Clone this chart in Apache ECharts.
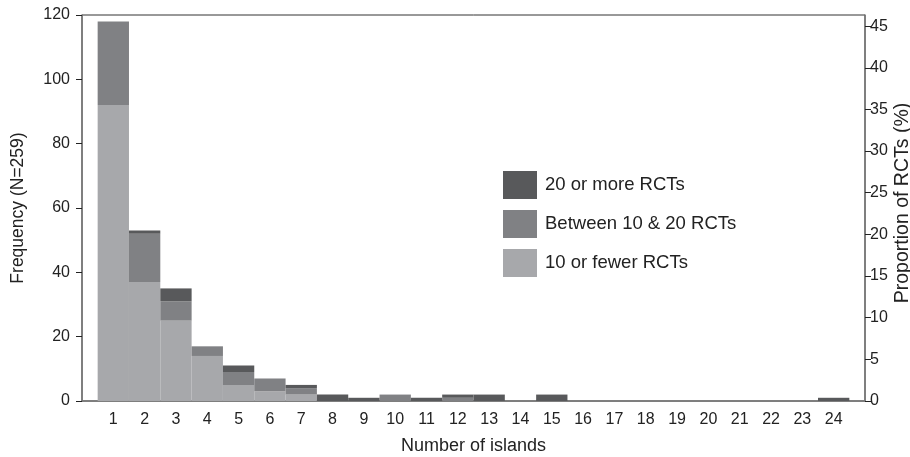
<!DOCTYPE html>
<html>
<head>
<meta charset="utf-8">
<script src="https://cdn.jsdelivr.net/npm/echarts@6/dist/echarts.min.js"></script>
<style>
  html, body { margin: 0; padding: 0; background: #fff; }
  #chart { width: 910px; height: 457px; }
</style>
</head>
<body>
<div id="chart"></div>
<script>
// number of islands (x axis)
const islands = ['1', '2', '3', '4', '5', '6', '7', '8', '9', '10', '11', '12', '13', '14', '15', '16', '17', '18', '19', '20', '21', '22', '23', '24'];
// frequencies per group
const fewRCTs = [92, 37, 25, 14, 5, 3, 2, 0, 0, 0, 0, 0, 0, 0, 0, 0, 0, 0, 0, 0, 0, 0, 0, 0];
const midRCTs = [26, 15, 6, 3, 4, 4, 2, 0, 0, 2, 0, 1, 0, 0, 0, 0, 0, 0, 0, 0, 0, 0, 0, 0];
const manyRCTs = [0, 1, 4, 0, 2, 0, 1, 2, 1, 0, 1, 1, 2, 0, 2, 0, 0, 0, 0, 0, 0, 0, 0, 1];
const N = 259;
const freqMax = 120;

const names = ['20 or more RCTs', 'Between 10 & 20 RCTs', '10 or fewer RCTs'];
const colors = { few: '#a7a8ab', mid: '#808184', many: '#58595b' };

const chart = echarts.init(document.getElementById('chart'));

const font = 'Liberation Sans';
const axisText = { color: '#222', fontFamily: font, fontSize: 16 };

// frame: 82..865 wide, one half-slot of padding each side for the bars
const frameLeft = 82, frameRight = 45;
const slot = (910 - frameLeft - frameRight) / (islands.length + 1);

const option = {
  animation: false,
  textStyle: { fontFamily: font },
  grid: [
    // grid 0 holds the bars
    { left: frameLeft + slot / 2, right: frameRight + slot / 2, top: 15, bottom: 56, outerBoundsMode: 'none' },
    // grid 1 draws the frame and the visible y axes
    { left: frameLeft, right: frameRight, top: 15, bottom: 56, outerBoundsMode: 'none',
      show: true, borderColor: '#333', borderWidth: 1 }
  ],
  legend: {
    data: names,
    orient: 'vertical',
    left: 503, top: 171,
    padding: 0,
    itemWidth: 34, itemHeight: 28, itemGap: 11,
    icon: 'rect',
    textStyle: { fontSize: 18.5, color: '#222', fontFamily: font, padding: [0, 0, 0, 3] }
  },
  xAxis: [
    {
      type: 'category', gridIndex: 0,
      data: islands,
      boundaryGap: true,
      axisLine: { show: false },
      axisTick: { alignWithLabel: true, length: 6, lineStyle: { color: '#222' } },
      axisLabel: Object.assign({ margin: 11 }, axisText)
    },
    {
      type: 'value', gridIndex: 1,
      min: 0, max: 1,
      name: 'Number of islands',
      nameLocation: 'middle', nameGap: 36, nameMoveOverlap: false,
      nameTextStyle: { fontSize: 18, color: '#222', fontFamily: font },
      axisLine: { lineStyle: { color: '#777', width: 1.5 } },
      axisTick: { show: false },
      axisLabel: { show: false },
      splitLine: { show: false }
    }
  ],
  yAxis: [
    {
      // hidden scale for the bars
      type: 'value', gridIndex: 0,
      min: 0, max: freqMax,
      show: false
    },
    {
      type: 'value', gridIndex: 1,
      min: 0, max: freqMax, interval: 20,
      name: 'Frequency (N=259)',
      nameLocation: 'middle', nameGap: 55, nameMoveOverlap: false,
      nameTextStyle: { fontSize: 17.5, color: '#222', fontFamily: font },
      axisLine: { show: true, lineStyle: { color: '#777', width: 1.5 } },
      axisTick: { show: true, length: 6, lineStyle: { color: '#222' } },
      axisLabel: Object.assign({ margin: 12 }, axisText),
      splitLine: { show: false }
    },
    {
      type: 'value', gridIndex: 1,
      position: 'right',
      min: 0, max: freqMax / N * 100, interval: 5,
      alignTicks: false,
      name: 'Proportion of RCTs (%)',
      nameLocation: 'middle', nameGap: 28, nameMoveOverlap: false,
      nameTextStyle: { fontSize: 19.5, color: '#222', fontFamily: font, padding: [0, 0, 0, 10] },
      axisLine: { show: true, lineStyle: { color: '#777', width: 1.5 } },
      axisTick: { show: true, length: 6, lineStyle: { color: '#222' } },
      axisLabel: Object.assign({ margin: 5, showMaxLabel: false }, axisText),
      splitLine: { show: false }
    }
  ],
  series: [
    {
      name: names[2], type: 'bar', stack: 'rct',
      xAxisIndex: 0, yAxisIndex: 0,
      barCategoryGap: '0%',
      itemStyle: { color: colors.few },
      data: fewRCTs
    },
    {
      name: names[1], type: 'bar', stack: 'rct',
      xAxisIndex: 0, yAxisIndex: 0,
      barCategoryGap: '0%',
      itemStyle: { color: colors.mid },
      data: midRCTs
    },
    {
      name: names[0], type: 'bar', stack: 'rct',
      xAxisIndex: 0, yAxisIndex: 0,
      barCategoryGap: '0%',
      itemStyle: { color: colors.many },
      data: manyRCTs
    }
  ]
};

chart.setOption(option);
</script>
</body>
</html>
